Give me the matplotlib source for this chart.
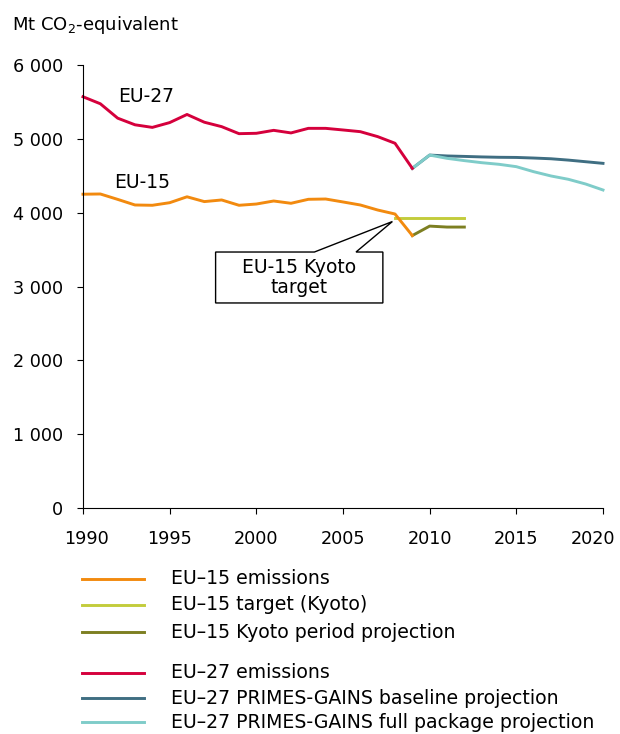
import matplotlib.pyplot as plt
import numpy as np
from matplotlib.lines import Line2D
from matplotlib.patches import Polygon
from matplotlib.transforms import ScaledTranslation

plt.rcParams['font.family'] = ['DejaVu Sans']

years_hist = list(range(1990, 2010))
eu27 = [5570, 5475, 5280, 5190, 5155, 5220, 5330, 5225, 5165, 5070,
        5075, 5115, 5080, 5142, 5142, 5120, 5097, 5030, 4940, 4600]
eu15 = [4250, 4253, 4180, 4104, 4100, 4135, 4215, 4150, 4172, 4100,
        4117, 4158, 4127, 4181, 4185, 4145, 4104, 4036, 3982, 3690]

years_kyoto = [2008, 2009, 2010, 2011, 2012]
kyoto_target = [3923, 3923, 3923, 3923, 3923]

years_kproj = [2009, 2010, 2011, 2012]
kyoto_proj = [3690, 3818, 3805, 3805]

years_proj = list(range(2009, 2021))
baseline = [4600, 4780, 4768, 4762, 4755, 4750, 4748, 4740, 4730, 4712, 4690, 4668]
fullpkg = [4600, 4780, 4736, 4705, 4677, 4655, 4623, 4555, 4497, 4452, 4388, 4307]

c_eu15 = "#F28A0F"
c_target = "#C3CC3C"
c_kproj = "#7D7F22"
c_eu27 = "#D5003C"
c_base = "#3F6E82"
c_full = "#7FCCC9"

fig = plt.figure(figsize=(6.2, 7.34), dpi=100, facecolor="white")
ax = fig.add_axes([83/620, 1-508/734, (603-83)/620, (508-65)/734])

lw = 2.1
ax.plot(years_proj, baseline, color=c_base, lw=lw, clip_on=False)
ax.plot(years_proj, fullpkg, color=c_full, lw=lw, clip_on=False)
ax.plot(years_hist, eu27, color=c_eu27, lw=lw, clip_on=False)
ax.plot(years_kyoto, kyoto_target, color=c_target, lw=lw)
ax.plot(years_kproj, kyoto_proj, color=c_kproj, lw=lw)
ax.plot(years_hist, eu15, color=c_eu15, lw=lw, clip_on=False)

ax.set_xlim(1990, 2020)
ax.set_ylim(0, 6000)
ax.set_xticks(range(1990, 2021, 5))
yt = list(range(0, 6001, 1000))
ax.set_yticks(yt)
ax.set_yticklabels([("{:,}".format(v)).replace(",", " ") for v in yt])
for s in ["top", "right"]:
    ax.spines[s].set_visible(False)
ax.tick_params(direction="out", length=4.5, labelsize=12.7)
ax.tick_params(axis="x", pad=11)
ax.tick_params(axis="y", pad=10)

# nudge the end labels like the original
xl_labels = ax.get_xticklabels()
xl_labels[0].set_transform(xl_labels[0].get_transform() + ScaledTranslation(3/100, 0, fig.dpi_scale_trans))
xl_labels[-1].set_transform(xl_labels[-1].get_transform() + ScaledTranslation(-10/100, 0, fig.dpi_scale_trans))

# series labels
ax.text(1992.0, 5567, "EU-27", fontsize=13.5, va="center", ha="left")
ax.text(1991.8, 4415, "EU-15", fontsize=13.5, va="center", ha="left")

# callout box
xl, xr, yb, ytp = 1997.65, 2007.3, 2777, 3467
tip = (2007.85, 3880)
bubble = Polygon([(xl, yb), (xr, yb), (xr, ytp), (2005.75, ytp), tip,
                  (2003.35, ytp), (xl, ytp)], closed=True,
                 facecolor="white", edgecolor="black", lw=1.0, zorder=5)
ax.add_patch(bubble)
ax.text((xl+xr)/2, (yb+ytp)/2, "EU-15 Kyoto\ntarget", ha="center", va="center",
        fontsize=13.5, zorder=6, linespacing=1.05)

fig.text(12/620, 1-25/734, "Mt CO$_2$-equivalent", fontsize=13, va="center", ha="left")

# legend
entries = [("EU\u201315 emissions", c_eu15, 579),
           ("EU\u201315 target (Kyoto)", c_target, 605),
           ("EU\u201315 Kyoto period projection", c_kproj, 632),
           ("EU\u201327 emissions", c_eu27, 673),
           ("EU\u201327 PRIMES-GAINS baseline projection", c_base, 698),
           ("EU\u201327 PRIMES-GAINS full package projection", c_full, 722)]
for label, col, ypx in entries:
    y = 1 - ypx/734
    fig.add_artist(Line2D([82/620, 144/620], [y, y], color=col, lw=lw))
    fig.text(171/620, y, label, fontsize=13.6, va="center", ha="left")

fig.savefig("out.png", dpi=100, facecolor="white")
